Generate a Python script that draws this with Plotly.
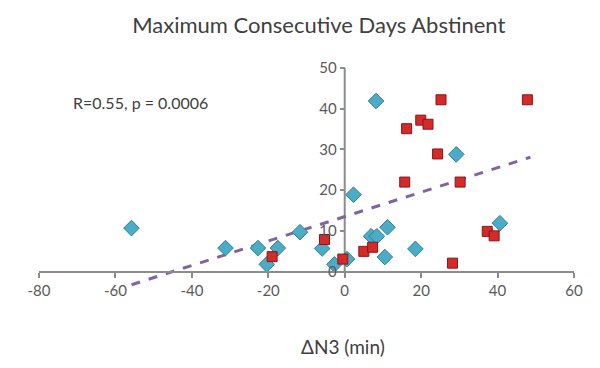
import plotly.graph_objects as go

# Data
blue_x = [-55.8, -31.2, -22.7, -20.4, -17.5, -11.7, -5.9, -2.7, 0.6, 2.3, 6.9, 8.4, 8.2, 10.5, 11.2, 18.5, 29.2, 40.6]
blue_y = [10.7, 5.8, 5.8, 1.8, 5.8, 9.7, 5.7, 1.8, 3.1, 18.9, 8.7, 8.7, 41.9, 3.6, 10.9, 5.6, 28.8, 11.9]
red_x = [-19.0, -5.3, -0.5, 5.0, 7.3, 15.7, 16.2, 19.9, 21.8, 24.3, 25.2, 28.2, 30.2, 37.3, 39.1, 47.8]
red_y = [3.7, 7.9, 3.1, 5.0, 6.0, 22.0, 35.1, 37.2, 36.2, 28.9, 42.2, 2.1, 22.0, 9.9, 8.8, 42.2]
trend_x = [-55.8, 48.6]
trend_y = [-3.2, 28.1]

x_ticks = [-80, -60, -40, -20, 0, 20, 40, 60]
y_ticks = [0, 10, 20, 30, 40, 50]

title_text = "Maximum Consecutive Days Abstinent"
xaxis_title = "ΔN3 (min)"
stat_text = "R=0.55, p = 0.0006"

FONT = "Lato, Open Sans, sans-serif"
AXIS_COLOR = "#8c8c8c"
TEXT_COLOR = "#404040"

x_range = [x_ticks[0], x_ticks[-1]]
y_range = [-4, y_ticks[-1]]

fig = go.Figure()

fig.add_trace(go.Scatter(
    x=trend_x, y=trend_y, mode="lines",
    line=dict(color="#8064A2", width=3, dash="dash"),
    hoverinfo="skip", showlegend=False,
))
fig.add_trace(go.Scatter(
    x=blue_x, y=blue_y, mode="markers",
    marker=dict(symbol="diamond", size=12, color="#4BACC6",
                line=dict(color="#2f7f96", width=1)),
    showlegend=False,
))
fig.add_trace(go.Scatter(
    x=red_x, y=red_y, mode="markers",
    marker=dict(symbol="square", size=10, color="#D42A2A",
                line=dict(color="#8b1515", width=1)),
    showlegend=False,
))

# y axis line from 0 to top
fig.add_shape(type="line", xref="x", yref="y", x0=0, x1=0, y0=0, y1=y_ticks[-1],
              line=dict(color=AXIS_COLOR, width=2), layer="below")

fig.update_layout(
    template="none",
    width=600, height=368,
    margin=dict(l=31, r=34, t=60, b=88, autoexpand=False),
    paper_bgcolor="white", plot_bgcolor="white",
    font=dict(family=FONT, color=TEXT_COLOR, size=15),
    title=dict(text=title_text, x=0.518, y=0.954, xanchor="center", yanchor="middle",
               font=dict(family=FONT, size=22, color=TEXT_COLOR)),
    xaxis=dict(range=x_range, tickvals=x_ticks, ticktext=[str(v) for v in x_ticks],
               showgrid=False, zeroline=False, showline=True, linecolor=AXIS_COLOR, linewidth=2,
               ticks="outside", ticklen=5, tickcolor=AXIS_COLOR, tickwidth=2,
               automargin=False,
               anchor="free", position=(0 - y_range[0]) / (y_range[1] - y_range[0]),
               tickfont=dict(size=15, color="#595959")),
    yaxis=dict(range=y_range, tickvals=y_ticks, ticktext=[str(v) for v in y_ticks],
               showgrid=False, zeroline=False, showline=False,
               ticks="outside", ticklen=5, tickcolor=AXIS_COLOR, tickwidth=2,
               automargin=False,
               anchor="free", position=(0 - x_range[0]) / (x_range[1] - x_range[0]),
               tickfont=dict(size=15, color="#595959")),
    annotations=[
        dict(text=xaxis_title, xref="paper", yref="paper", x=0.568, y=-0.264,
             xanchor="center", yanchor="middle", showarrow=False,
             font=dict(size=19, color=TEXT_COLOR)),
        dict(text=stat_text, xref="paper", yref="paper", x=0.0598, y=0.841,
             xanchor="left", yanchor="middle", showarrow=False,
             font=dict(size=16, color=TEXT_COLOR)),
    ],
)

fig.write_html("out.html")
